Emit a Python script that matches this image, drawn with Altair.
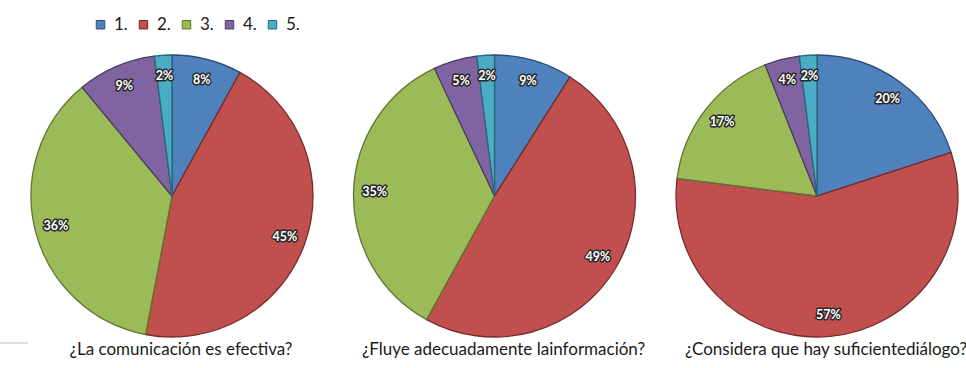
import altair as alt
import pandas as pd

# Survey answers (percent of respondents) for each of the three questions
preguntas = [
    "¿La comunicación es efectiva?",
    "¿Fluye adecuadamente lainformación?",
    "¿Considera que hay suficientediálogo?",
]
categorias = ["1.", "2.", "3.", "4.", "5."]
pct_comunicacion = [8, 45, 36, 9, 2]
pct_informacion = [9, 49, 35, 5, 2]
pct_dialogo = [20, 57, 17, 4, 2]

colores = ["#4F81BD", "#C0504D", "#9BBB59", "#8064A2", "#4BACC6"]
bordes = ["#2C4D75", "#772C2A", "#5F7530", "#4D3B62", "#276A7C"]

rows = []
for pregunta, valores in zip(preguntas, [pct_comunicacion, pct_informacion, pct_dialogo]):
    for i, (cat, v) in enumerate(zip(categorias, valores)):
        rows.append({"pregunta": pregunta, "categoria": cat, "orden": i, "pct": v})
df = pd.DataFrame(rows)
df_preg = pd.DataFrame({"pregunta": preguntas})

x_enc = alt.X(
    "pregunta:N",
    scale=alt.Scale(type="point", domain=preguntas, range=[172, 817], padding=0),
    axis=None,
)
theta_scale = alt.Scale(domain=[0, 100], range=[0, 6.283185307179586])

base = (
    alt.Chart(df)
    .transform_stack(
        stack="pct",
        groupby=["pregunta"],
        sort=[alt.SortField("orden", order="ascending")],
        as_=["t0", "t1"],
    )
    .transform_calculate(mid="(datum.t0 + datum.t1) / 2", etiqueta="datum.pct + '%'")
)

arcos = base.mark_arc(radius=141, strokeWidth=1.3).encode(
    x=x_enc,
    y=alt.value(196),
    theta=alt.Theta("t0:Q", scale=theta_scale),
    theta2="t1:Q",
    color=alt.Color(
        "categoria:N",
        scale=alt.Scale(domain=categorias, range=colores),
        legend=alt.Legend(
            title=None,
            orient="none",
            legendX=92,
            legendY=16,
            direction="horizontal",
            symbolType="square",
            symbolSize=72,
            symbolStrokeColor="#1a1a1a",
            symbolStrokeWidth=1,
            labelFont="Lato",
            labelFontSize=17,
            labelColor="#1a1a1a",
            labelOffset=5,
            columnPadding=7,
            padding=0,
        ),
    ),
    stroke=alt.Stroke(
        "categoria:N", scale=alt.Scale(domain=categorias, range=bordes), legend=None
    ),
)

texto_borde = base.mark_text(
    radius=120,
    font="Lato",
    fontSize=12.5,
    fontWeight="bold",
    stroke="#2a2a2a",
    strokeWidth=3,
    strokeJoin="round",
    fill="#2a2a2a",
).encode(
    x=x_enc,
    y=alt.value(196),
    theta=alt.Theta("mid:Q", scale=theta_scale),
    text="etiqueta:N",
)

texto = base.mark_text(
    radius=120,
    font="Lato",
    fontSize=12.5,
    fontWeight="bold",
    fill="#ffffff",
).encode(
    x=x_enc,
    y=alt.value(196),
    theta=alt.Theta("mid:Q", scale=theta_scale),
    text="etiqueta:N",
)

titulos = (
    alt.Chart(df_preg)
    .mark_text(font="Lato", fontSize=17, color="#1a1a1a", dx=9, baseline="middle")
    .encode(x=x_enc, y=alt.value(350), text="pregunta:N")
)

linea = (
    alt.Chart(pd.DataFrame({"k": [0]}))
    .mark_rule(color="#c0c0c0", strokeWidth=1)
    .encode(x=alt.value(0), x2=alt.value(28), y=alt.value(343))
)

chart = (
    alt.layer(arcos, texto_borde, texto, titulos, linea)
    .properties(
        width=966,
        height=368,
        autosize=alt.AutoSizeParams(type="none"),
        padding=0,
        background="#ffffff",
    )
    .configure_view(stroke=None)
)

chart.save("out.html", embed_options={"renderer": "svg", "actions": False})
